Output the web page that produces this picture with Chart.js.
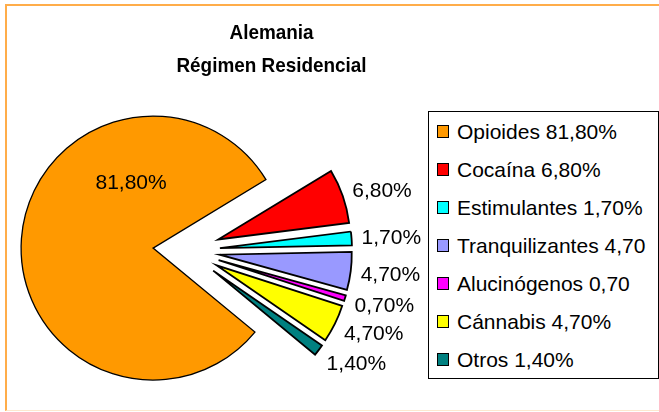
<!DOCTYPE html>
<html>
<head>
<meta charset="utf-8">
<script src="https://cdn.jsdelivr.net/npm/chart.js@4.4.1/dist/chart.umd.min.js"></script>
<style>
  html, body { margin: 0; padding: 0; background: #fff; }
  body { width: 659px; height: 412px; position: relative; overflow: hidden; font-family: "Liberation Sans", Arial, sans-serif; }
  .frame { position: absolute; left: 5px; top: 4px; width: 700px; height: 404px; border-top: 2px solid #ffad4a; border-left: 2px solid #ffad4a; border-bottom: 1px solid #fde8cf; }
  #pie { position: absolute; left: 0; top: 0; }
  .title { position: absolute; left: 0; top: 15px; width: 543px; text-align: center; font-weight: bold; font-size: 21px; line-height: 33px; color: #000; transform: scaleX(0.9); transform-origin: 271.5px 0; }
  .legend { position: absolute; left: 428px; top: 111px; width: 231px; height: 268px; box-sizing: border-box; border: 1px solid #000; background: #fff; overflow: hidden; padding: 1px 0 0 8px; }
  .legend div { height: 38px; line-height: 38px; font-size: 21px; white-space: nowrap; color: #000; }
  .legend span { display: inline-block; width: 10px; height: 11px; border: 1px solid #000; margin: 0 8px 1px 0; vertical-align: baseline; }
</style>
</head>
<body>
<div class="frame"></div>
<canvas id="pie" width="659" height="412"></canvas>
<div class="title">Alemania<br>Régimen Residencial</div>
<div class="legend" id="legend"></div>
<script>
const categories = ["Opioides", "Cocaína", "Estimulantes", "Tranquilizantes", "Alucinógenos", "Cánnabis", "Otros"];
const values = [81.8, 6.8, 1.7, 4.7, 0.7, 4.7, 1.4];
const valueLabels = ["81,80%", "6,80%", "1,70%", "4,70%", "0,70%", "4,70%", "1,40%"];
// legend text as shown (the long ones are cut off in the original)
const legendLabels = ["Opioides 81,80%", "Cocaína 6,80%", "Estimulantes 1,70%", "Tranquilizantes 4,70", "Alucinógenos 0,70", "Cánnabis 4,70%", "Otros 1,40%"];
const colors = ["#ff9900", "#ff0000", "#00ffff", "#9999ff", "#ff00ff", "#ffff00", "#008080"];

const legend = document.getElementById("legend");
legendLabels.forEach((txt, i) => {
    const row = document.createElement("div");
    const box = document.createElement("span");
    box.style.background = colors[i];
    row.appendChild(box);
    row.appendChild(document.createTextNode(txt));
    legend.appendChild(row);
});

// every slice pulled out from the centre by the same distance
const explodePlugin = {
    id: "explode",
    beforeDatasetDraw(chart, args, opts) {
        const ctx = chart.ctx;
        args.meta.data.forEach(arc => {
            const mid = (arc.startAngle + arc.endAngle) / 2;
            ctx.save();
            ctx.translate(Math.cos(mid) * opts.distance, Math.sin(mid) * opts.distance);
            arc.draw(ctx);
            ctx.restore();
        });
        return false;
    }
};

const labelPlugin = {
    id: "sliceLabels",
    afterDatasetsDraw(chart, args, opts) {
        const ctx = chart.ctx;
        const arcs = chart.getDatasetMeta(0).data;
        ctx.save();
        ctx.font = opts.font;
        ctx.fillStyle = "#000";
        ctx.textBaseline = "alphabetic";
        arcs.forEach((arc, i) => {
            const mid = (arc.startAngle + arc.endAngle) / 2;
            const cos = Math.cos(mid), sin = Math.sin(mid);
            const cx = arc.x + cos * opts.explode;
            const cy = arc.y + sin * opts.explode;
            if (i === 0) {
                const a = opts.insideAngle * Math.PI / 180;
                ctx.textAlign = "center";
                ctx.fillText(valueLabels[i], cx + Math.cos(a) * opts.insideDist, cy + Math.sin(a) * opts.insideDist + 7.5);
            } else {
                const r = arc.outerRadius + opts.gap;
                ctx.textAlign = "left";
                ctx.fillText(valueLabels[i], cx + cos * r, cy + sin * r + sin * 11 + 7.5);
            }
        });
        ctx.restore();
    }
};

new Chart(document.getElementById("pie"), {
    type: "pie",
    data: {
        labels: categories,
        datasets: [{
            data: values,
            backgroundColor: colors,
            borderColor: "#000",
            borderWidth: [1.3, 1.8, 1.8, 1.8, 1.8, 1.8, 1.8],
            borderJoinStyle: "miter"
        }]
    },
    options: {
        responsive: false,
        animation: false,
        events: [],
        rotation: 129.5,
        radius: 132,
        layout: { padding: { left: 0, right: 286, top: 89, bottom: 0 } },
        plugins: {
            legend: { display: false },
            title: { display: false },
            tooltip: { enabled: false },
            explode: { distance: 33.5 },
            sliceLabels: {
                font: "21px 'Liberation Sans', Arial, sans-serif",
                explode: 33.5,
                gap: 10,
                insideAngle: -108.2,
                insideDist: 70.5
            }
        }
    },
    plugins: [explodePlugin, labelPlugin]
});
</script>
</body>
</html>
